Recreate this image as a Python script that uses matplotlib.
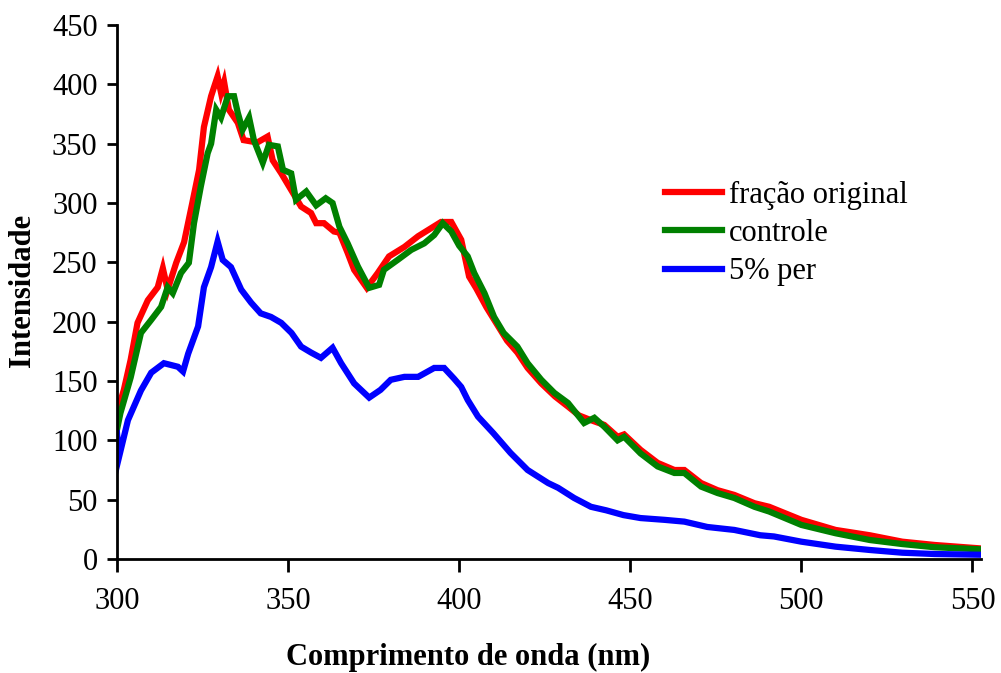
import matplotlib
matplotlib.use("Agg")
import matplotlib.pyplot as plt

plt.rcParams['font.family'] = ['Liberation Serif', 'DejaVu Serif']

# Emission spectra: wavelength (nm) and intensity for each sample
wl_original = [300, 302, 304, 306, 309, 311.9, 313.4, 314.8, 317.3, 319.6, 322, 324, 325.4,
               327.5, 328.4, 329.4, 330.4, 331.3, 332.7, 335.3, 337, 341, 344, 345.5, 348,
               350.9, 353.8, 356.7, 358.2, 360.5, 363.4, 365, 367.4, 369.3, 373, 376.2, 379.5,
               384, 388, 390.8, 394.7, 397.7, 400.6, 402.9, 405, 408, 411, 414, 417, 420, 424,
               428, 432, 435, 438.5, 442.4, 446.3, 448.2, 453, 458, 462.9, 465.8, 470.7, 475.5,
               480.4, 486.3, 490.6, 500, 510, 520, 529.5, 539, 552]
int_original = [123, 142.5, 168, 199, 218, 229, 245, 227, 249.6, 267, 300, 328, 364,
                390, 398, 406.7, 393, 402, 378.6, 367.6, 353, 351, 356, 336, 325,
                311, 297, 291.6, 283, 283, 276, 275, 258, 243.7, 228.5, 241, 255,
                263, 272, 277, 284, 284, 269, 238, 228, 212, 198, 184, 174, 161, 148,
                137, 128, 121, 117, 113, 103, 105, 92, 81, 75, 75, 64, 58,
                54, 47, 44, 33, 24.5, 20, 14.6, 11.8, 9]

wl_controle = [300, 301, 304, 307, 310, 312.9, 314.8, 316.3, 318.7, 321, 322.5, 324.5, 326.5,
               327.5, 329, 330.4, 332.4, 334.2, 335.3, 336.7, 338.6, 340, 342.6, 344.4, 347,
               348.5, 350.9, 352.3, 355.3, 358.2, 361, 363, 365, 367.4, 370.4, 373.7, 376.6,
               378, 382, 386, 389.8, 392.7, 395.2, 397.7, 400, 402.5, 404.4, 407.4, 410.2,
               413, 417, 420, 424, 427.8, 431.8, 436.5, 439.5, 442.4, 446.3, 448.2, 453, 458,
               462.9, 465.8, 470.7, 475.5, 480.4, 486.3, 490.6, 500, 510, 520, 529.5, 539, 552]
int_controle = [109, 123, 153, 190.5, 201.5, 212.5, 229, 224, 241, 249.6, 283, 314, 342,
                350, 378.6, 372, 390, 390, 376, 361.7, 372, 353, 334, 349, 347.7,
                328, 325, 302.7, 309.7, 298, 304, 300, 280, 266, 246.5, 228.5, 231,
                243.7, 252, 260.5, 266, 273, 283, 276, 264, 255, 241, 224, 204,
                190.5, 179, 165, 151, 140, 131.5, 114.6, 119, 111.5, 100, 103, 89, 78,
                72.5, 72.5, 61, 55.6, 51.4, 44, 40, 28.7, 21.7, 16, 12.6, 9.9, 8.2]

wl_per = [300, 300.6, 303.2, 307, 310, 313.7, 317.8, 319.3, 320.8, 323.7, 325.4, 327.5, 329.4,
          330.9, 333.3, 336.3, 339.2, 342, 345, 348, 351, 353.8, 356.7, 359.6, 363, 365.5,
          369.3, 373.7, 377, 380, 384, 388, 392.7, 395.6, 398.5, 400.6, 402.5, 405.5, 410,
          415, 420, 426, 428.9, 433.6, 438.5, 443, 448, 453, 460, 465.8, 472.5, 480.4, 488,
          492, 500, 510, 520, 529.5, 539, 552]
int_per = [106, 86, 117, 142, 157, 165, 162, 158, 173, 196, 229, 246, 267.5,
           252, 246, 227, 216, 207, 204, 199, 190.5, 179, 174, 169.5, 178, 165,
           148, 136, 142.5, 151, 153.5, 153.5, 161, 161, 152, 145, 134, 120, 106,
           89.4, 75, 64, 60, 51.4, 44, 41, 37, 34.5, 33, 31.5, 27, 24.5, 20,
           19, 14.6, 10.4, 7.6, 5.3, 4.2, 3.6]

series_labels = ['fração original', 'controle', '5% per']
series_colors = ['#ff0000', '#008000', '#0000ff']

x_ticks = [300, 350, 400, 450, 500, 550]
y_ticks = [0, 50, 100, 150, 200, 250, 300, 350, 400, 450]

fs = 22

fig = plt.figure(figsize=(10.01, 6.73), dpi=100)
ax = fig.add_axes([117 / 1001, 114 / 673, (981 - 117) / 1001, (559 - 25) / 673])

lw = 4.5
ax.plot(wl_original, int_original, color=series_colors[0], lw=lw, label=series_labels[0],
        solid_joinstyle='miter')
ax.plot(wl_controle, int_controle, color=series_colors[1], lw=lw, label=series_labels[1],
        solid_joinstyle='miter')
ax.plot(wl_per, int_per, color=series_colors[2], lw=lw, label=series_labels[2],
        solid_joinstyle='miter')

ax.set_xlim(300, 552.5)
ax.set_ylim(0, 450)
ax.set_xticks(x_ticks)
ax.set_yticks(y_ticks)

for side in ('top', 'right'):
    ax.spines[side].set_visible(False)
for side in ('left', 'bottom'):
    ax.spines[side].set_linewidth(2)
    ax.spines[side].set_color('black')

ax.tick_params(axis='both', direction='out', width=2, labelsize=fs, colors='black')
ax.tick_params(axis='y', length=7, pad=7)
ax.tick_params(axis='x', length=9, pad=11)

ax.set_xlabel('Comprimento de onda (nm)', fontsize=fs, fontweight='bold')
ax.xaxis.set_label_coords((468 - 117) / 864, -(643 - 559) / 534)
ax.set_ylabel('Intensidade', fontsize=fs, fontweight='bold')
ax.yaxis.set_label_coords(-(117 - 37) / 864, (559 - 290) / 534)

leg = ax.legend(loc='upper left', bbox_to_anchor=(665 / 1001, 1 - 181 / 673),
                bbox_transform=fig.transFigure, frameon=False, fontsize=fs,
                handlelength=1.85, handletextpad=0.25, labelspacing=0.3,
                borderpad=0, borderaxespad=0)
for line in leg.get_lines():
    line.set_linewidth(4.5)

fig.savefig('out.png', dpi=100)
